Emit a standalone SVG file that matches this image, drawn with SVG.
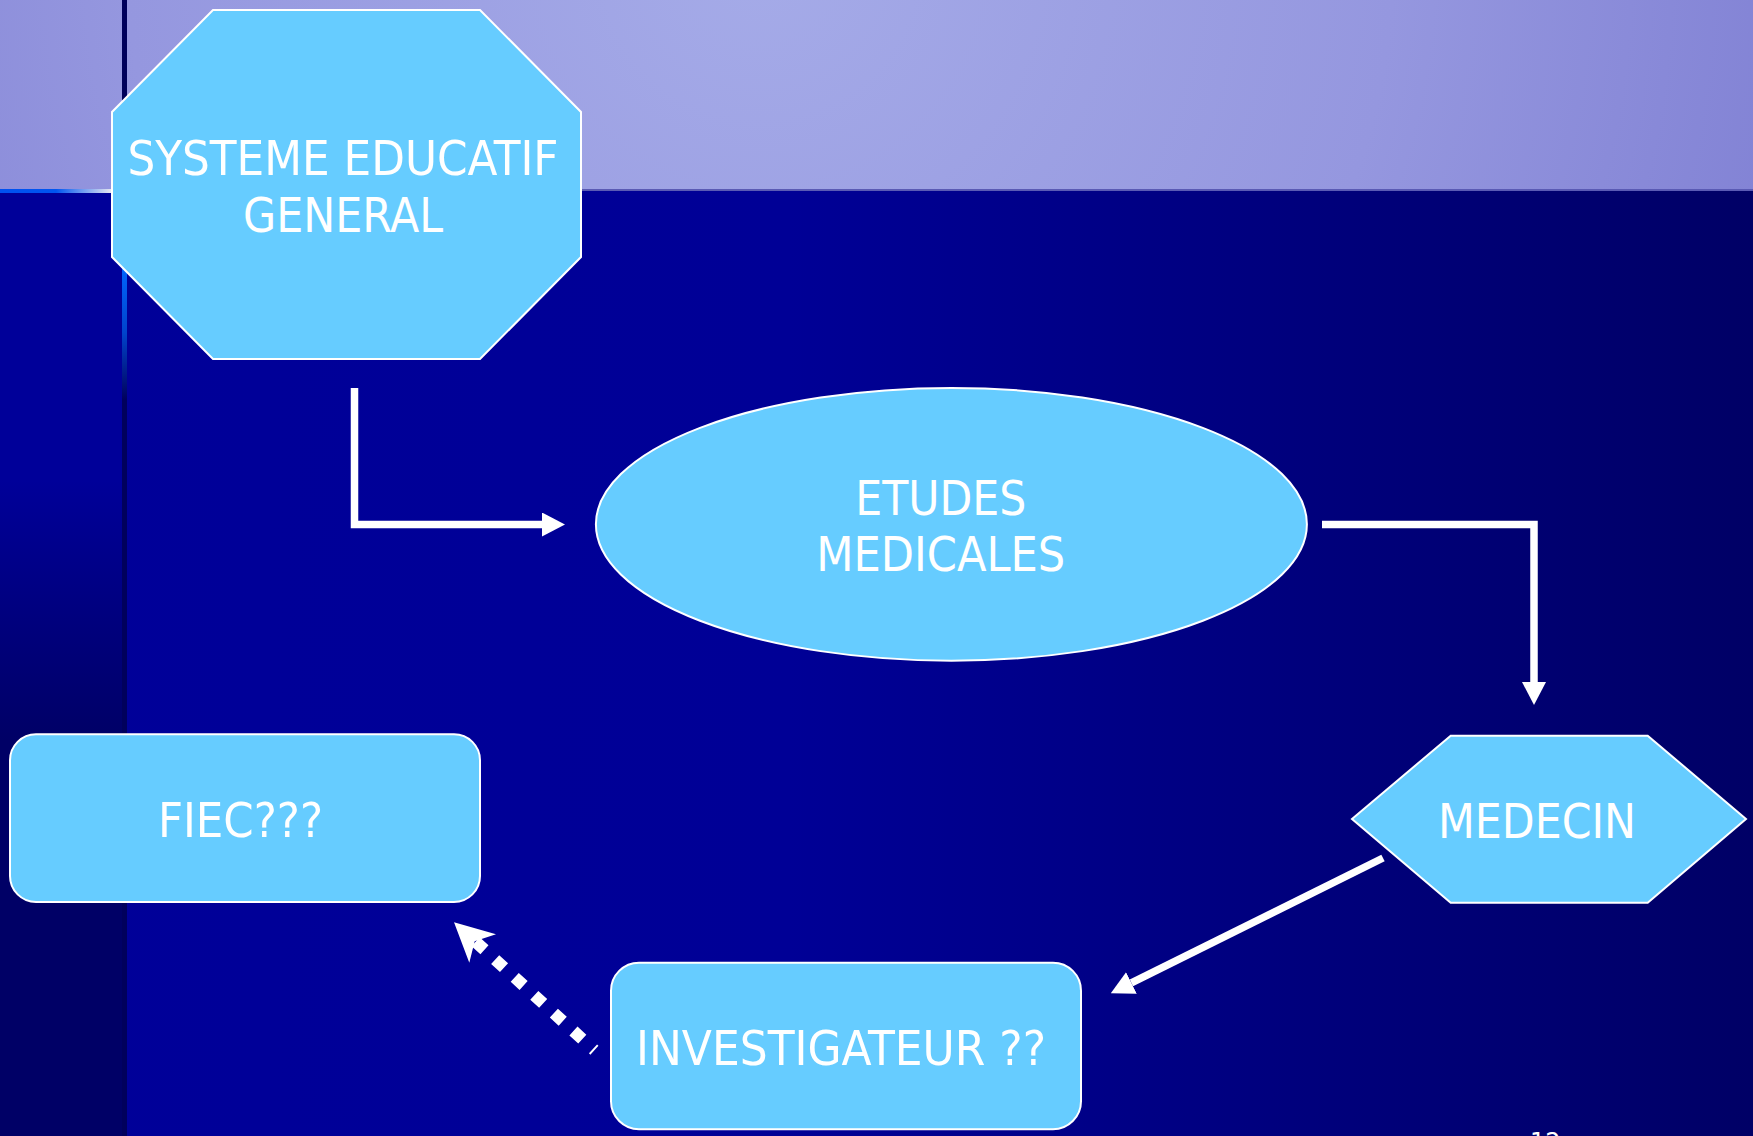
<svg xmlns="http://www.w3.org/2000/svg" width="1753" height="1136" viewBox="0 0 1753 1136">
  <defs>
    <radialGradient id="band" gradientUnits="userSpaceOnUse" cx="760" cy="-40" r="1150">
      <stop offset="0" stop-color="#a5abe8"/>
      <stop offset="0.55" stop-color="#9597df"/>
      <stop offset="1" stop-color="#7d7dd2"/>
    </radialGradient>
    <linearGradient id="main" gradientUnits="userSpaceOnUse" x1="0" y1="0" x2="1753" y2="0">
      <stop offset="0" stop-color="#000099"/>
      <stop offset="0.45" stop-color="#000096"/>
      <stop offset="1" stop-color="#000066"/>
    </linearGradient>
    <linearGradient id="strip" gradientUnits="userSpaceOnUse" x1="0" y1="480" x2="0" y2="740">
      <stop offset="0" stop-color="#000099"/>
      <stop offset="1" stop-color="#000066"/>
    </linearGradient>
    <linearGradient id="edge" gradientUnits="userSpaceOnUse" x1="0" y1="0" x2="112" y2="0">
      <stop offset="0" stop-color="#0050f0"/>
      <stop offset="0.5" stop-color="#0055f0"/>
      <stop offset="1" stop-color="#e8e8f0"/>
    </linearGradient>
    <linearGradient id="vline" gradientUnits="userSpaceOnUse" x1="0" y1="265" x2="0" y2="400">
      <stop offset="0" stop-color="#0066ff"/>
      <stop offset="0.5" stop-color="#0044cc"/>
      <stop offset="1" stop-color="#00005c"/>
    </linearGradient>
    <marker id="arrow" viewBox="0 0 23 24" refX="0" refY="12" markerWidth="23" markerHeight="24" markerUnits="userSpaceOnUse" orient="auto">
      <path d="M0,0 L23,12 L0,24 Z" fill="#ffffff"/>
    </marker>
    <style>
      .shape { fill: #66ccff; stroke: #ffffff; stroke-width: 2; }
      .label { fill: #ffffff; font-family: "DejaVu Sans Condensed", "DejaVu Sans", Tahoma, sans-serif; font-size: 48px; text-anchor: middle; }
      .conn { fill: none; stroke: #ffffff; stroke-width: 7.5; }
    </style>
  </defs>

  <!-- background -->
  <g id="background">
    <rect x="0" y="0" width="1753" height="1136" fill="url(#main)"/>
    <rect x="0" y="190" width="124" height="946" fill="url(#strip)"/>
    <rect x="0" y="0" width="1753" height="190" fill="url(#band)"/>
    <rect x="0" y="189" width="1753" height="2" fill="#5a5ab4"/>
    <rect x="0" y="189" width="112" height="4" fill="url(#edge)"/>
    <rect x="122" y="0" width="5" height="100" fill="#00005a"/>
    <rect x="122" y="100" width="5" height="90" fill="#1a3acc"/>
    <rect x="122" y="265" width="5" height="871" fill="url(#vline)"/>
  </g>

  <!-- connectors -->
  <g id="connectors">
    <path class="conn" d="M354.5,388 V524.5 H542" marker-end="url(#arrow)"/>
    <path class="conn" d="M1322,524.5 H1534 V682" marker-end="url(#arrow)"/>
    <path class="conn" d="M1383,858 L1131.4,982.9" marker-end="url(#arrow)"/>
    <path d="M475.6,941.7 L594.4,1050.2" fill="none" stroke="#ffffff" stroke-width="12" stroke-dasharray="12 14.5"/>
    <polygon points="454,922.3 496,934.3 474.7,941.2 469.3,962.7" fill="#ffffff"/>
  </g>

  <!-- nodes -->
  <g id="systeme-educatif">
    <polygon class="shape" points="213,10 480,10 581,112 581,257 480,359 213,359 112,257 112,112"/>
    <text class="label" x="343" y="175" textLength="431" lengthAdjust="spacingAndGlyphs">SYSTEME EDUCATIF</text>
    <text class="label" x="343" y="232" textLength="200" lengthAdjust="spacingAndGlyphs">GENERAL</text>
  </g>

  <g id="etudes-medicales">
    <ellipse class="shape" cx="951.4" cy="524.3" rx="355.5" ry="136.4"/>
    <text class="label" x="940.8" y="514.5" textLength="171" lengthAdjust="spacingAndGlyphs">ETUDES</text>
    <text class="label" x="940.8" y="570.5" textLength="249" lengthAdjust="spacingAndGlyphs">MEDICALES</text>
  </g>

  <g id="medecin">
    <polygon class="shape" points="1352,819 1450.7,735.7 1647.7,735.7 1746,819 1647.7,902.7 1450.7,902.7"/>
    <text class="label" x="1537" y="837.7" textLength="198" lengthAdjust="spacingAndGlyphs">MEDECIN</text>
  </g>

  <g id="fiec">
    <rect class="shape" x="10" y="734.3" width="470" height="167.7" rx="26" ry="26"/>
    <text class="label" x="240.5" y="836.7" textLength="165" lengthAdjust="spacingAndGlyphs">FIEC???</text>
  </g>

  <g id="investigateur">
    <rect class="shape" x="611" y="962.7" width="470" height="166.5" rx="28" ry="28"/>
    <text class="label" x="841" y="1065" textLength="410" lengthAdjust="spacingAndGlyphs">INVESTIGATEUR ??</text>
  </g>

  <g id="page-number">
    <text x="1530" y="1150" fill="#ffffff" font-family="DejaVu Sans, sans-serif" font-size="24">12</text>
  </g>
</svg>
